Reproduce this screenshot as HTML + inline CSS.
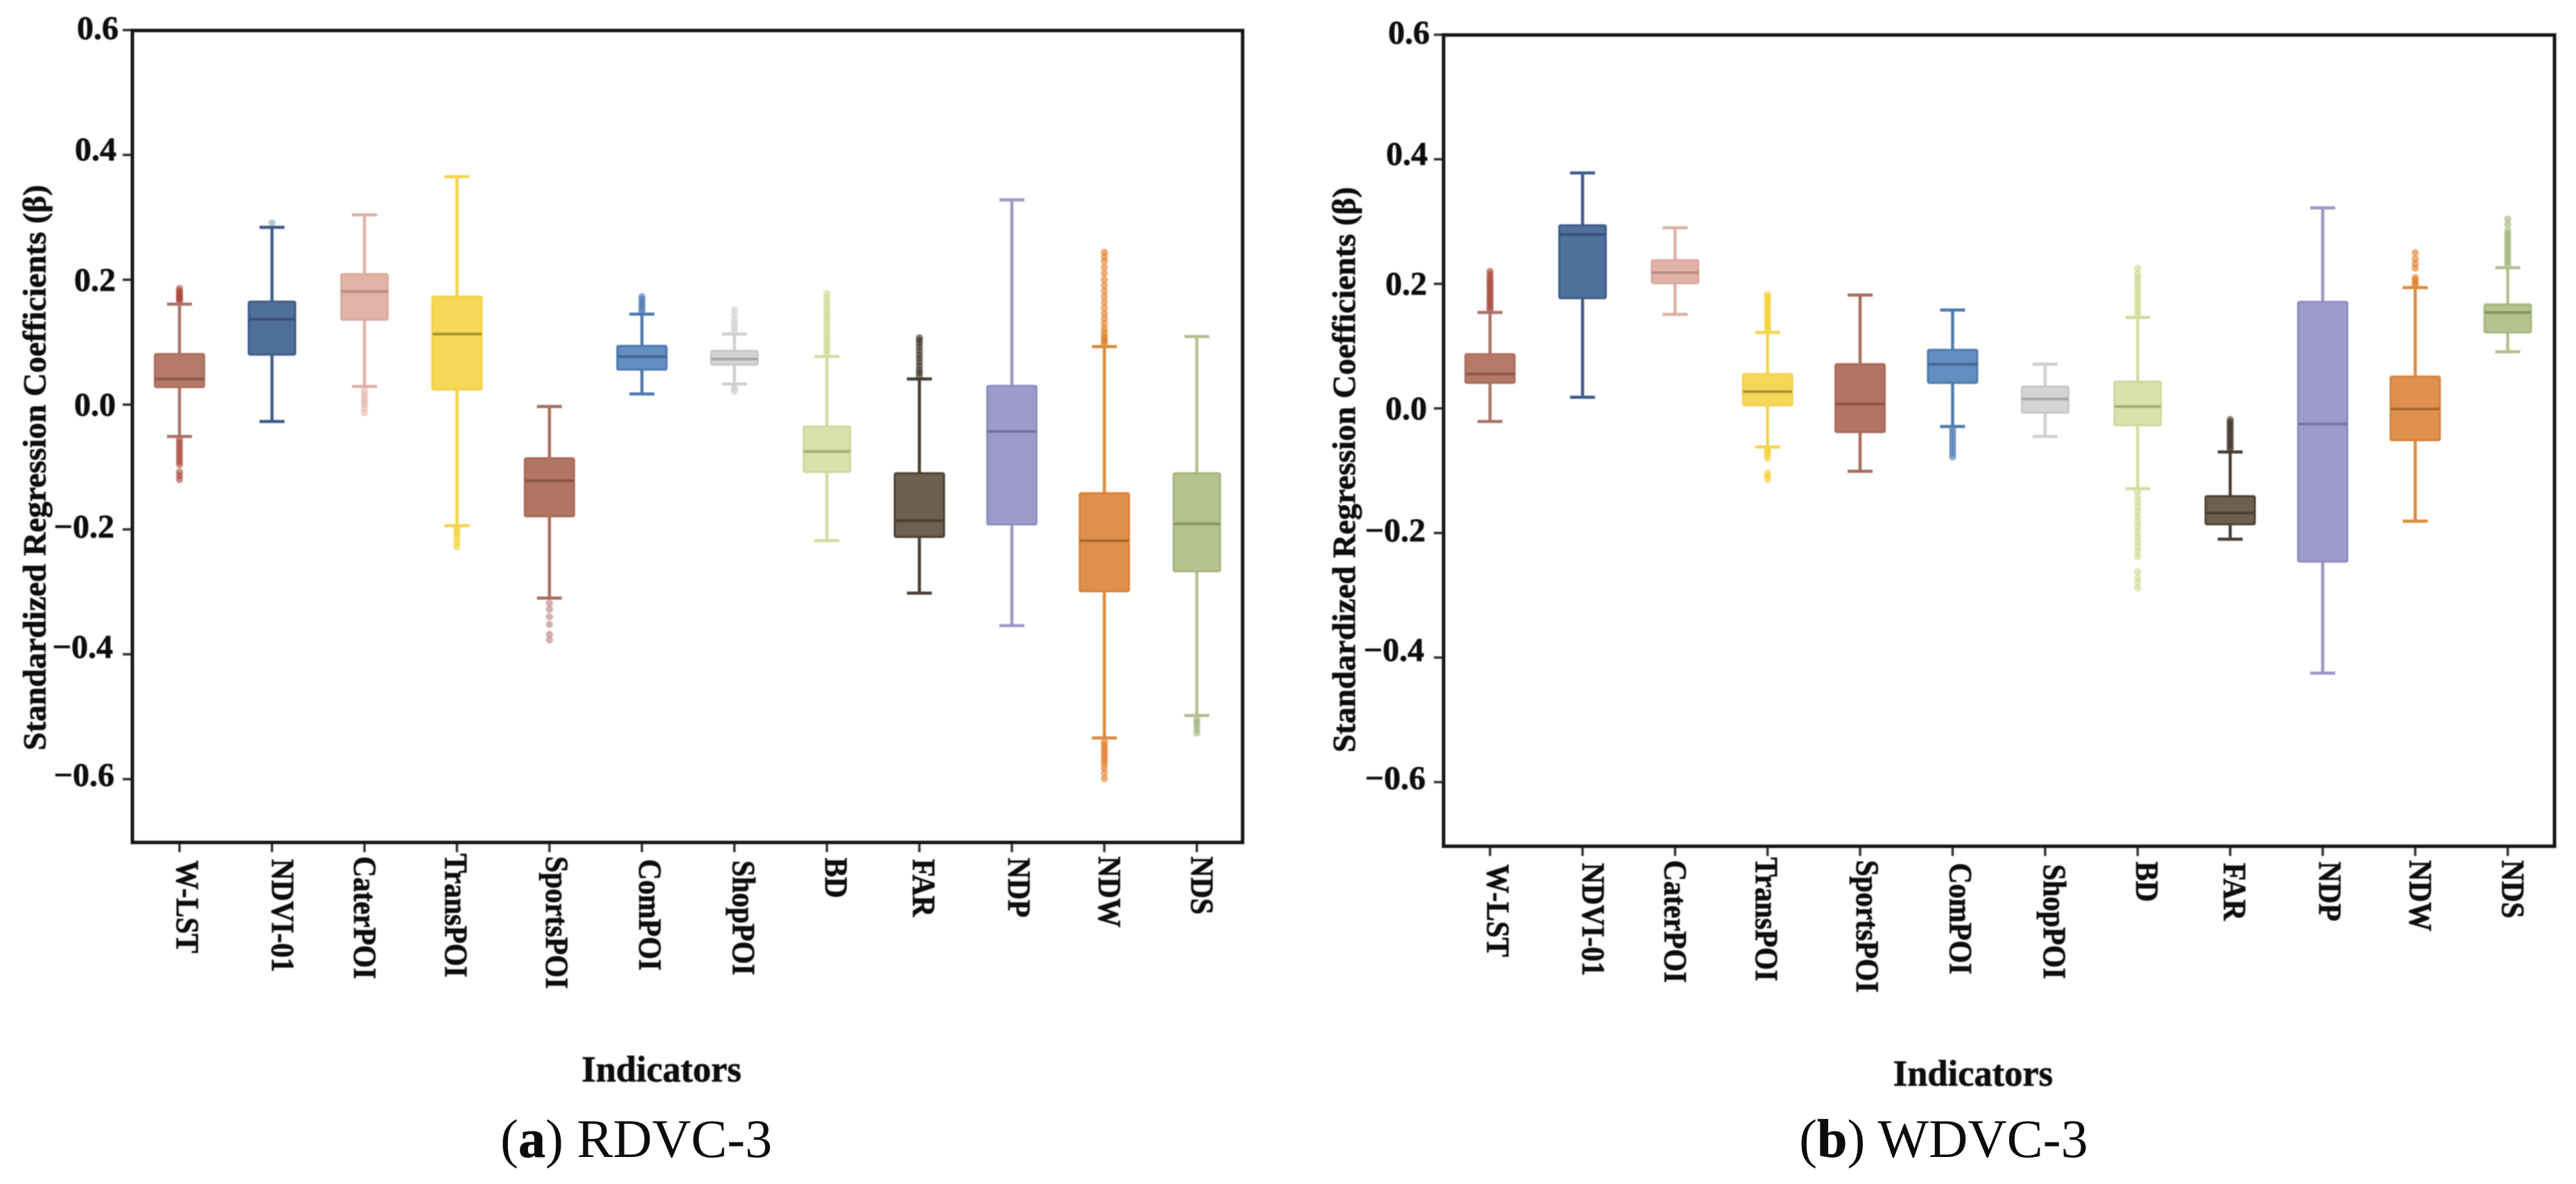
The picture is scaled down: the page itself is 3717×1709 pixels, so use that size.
<!DOCTYPE html>
<html lang="en">
<head>
<meta charset="utf-8">
<title>Standardized regression coefficients: RDVC-3 and WDVC-3</title>
<style>
html,body{margin:0;padding:0;background:#fff;width:3717px;height:1709px;overflow:hidden}
svg{display:block}
text{font-family:"Liberation Serif",serif;fill:#0b0b0b}
.b{font-weight:bold;stroke:#0b0b0b;stroke-width:0.7px}
</style>
</head>
<body>
<svg id="figure" xmlns="http://www.w3.org/2000/svg" width="3717" height="1709" viewBox="0 0 3717 1709">
  <defs><filter id="soft" x="-5%" y="-5%" width="110%" height="110%"><feGaussianBlur stdDeviation="0.9"/></filter></defs>
  <g id="panel-a" filter="url(#soft)">
    <text class="b" font-size="47" text-anchor="middle" transform="translate(65.5,675) rotate(-90)">Standardized Regression Coefficients (β)</text>
    <text class="b" font-size="52.5" text-anchor="middle" x="954.5" y="1561">Indicators</text>
  </g>
  <g id="panel-b" filter="url(#soft)">
    <text class="b" font-size="47" text-anchor="middle" transform="translate(1955,678) rotate(-90)">Standardized Regression Coefficients (β)</text>
    <text class="b" font-size="52.5" text-anchor="middle" x="2847" y="1567">Indicators</text>
  </g>
  <text x="722" y="1670" font-size="78">(<tspan class="b">a</tspan>) RDVC-3</text>
  <text x="2596" y="1670" font-size="78">(<tspan class="b">b</tspan>) WDVC-3</text>
</svg>
<script>
const categories = ['W-LST','NDVI-01','CaterPOI','TransPOI','SportsPOI','ComPOI','ShopPOI','BD','FAR','NDP','NDW','NDS'];
const yTickValues = [0.6,0.4,0.2,0.0,-0.2,-0.4,-0.6];
const yTickLabels = ['0.6','0.4','0.2','0.0','\u22120.2','\u22120.4','\u22120.6'];

const rdvcHigh   = [0.161,0.284,0.304,0.365,-0.003,0.145,0.113,0.077,0.041,0.328,0.093,0.109];
const rdvcQ3     = [0.081,0.165,0.209,0.173,-0.086,0.094,0.086,-0.035,-0.110,0.030,-0.142,-0.110];
const rdvcMedian = [0.041,0.137,0.181,0.113,-0.122,0.077,0.073,-0.075,-0.186,-0.043,-0.218,-0.191];
const rdvcQ1     = [0.028,0.080,0.136,0.024,-0.179,0.056,0.064,-0.108,-0.212,-0.192,-0.299,-0.267];
const rdvcLow    = [-0.051,-0.027,0.029,-0.194,-0.310,0.017,0.033,-0.218,-0.302,-0.354,-0.534,-0.498];
const rdvcOutliers = [
  [0.165,0.168,0.171,0.173,0.176,0.179,0.182,0.186,-0.056,-0.061,-0.066,-0.071,-0.076,-0.081,-0.086,-0.091,-0.096,-0.108,-0.114,-0.120],
  [0.291],
  [0.022,0.016,0.010,0.005,0.000,-0.006,-0.013],
  [-0.198,-0.203,-0.208,-0.214,-0.221,-0.228],
  [-0.318,-0.328,-0.340,-0.352,-0.368,-0.377],
  [0.149,0.153,0.157,0.161,0.165,0.169,0.173],
  [0.118,0.124,0.130,0.136,0.144,0.152,0.029,0.025,0.021],
  [0.081,0.087,0.093,0.099,0.105,0.111,0.117,0.123,0.129,0.135,0.141,0.147,0.153,0.159,0.165,0.171,0.178],
  [0.046,0.051,0.056,0.062,0.068,0.074,0.080,0.086,0.092,0.098,0.103,0.107],
  [],
  [0.098,0.102,0.106,0.110,0.116,0.122,0.130,0.138,0.146,0.155,0.164,0.173,0.182,0.191,0.200,0.210,0.220,0.230,0.237,0.244,-0.540,-0.545,-0.550,-0.555,-0.560,-0.565,-0.570,-0.575,-0.582,-0.590,-0.599],
  [-0.504,-0.509,-0.514,-0.520,-0.526]
];

const wdvcHigh   = [0.154,0.378,0.290,0.122,0.182,0.158,0.071,0.146,-0.070,0.322,0.194,0.226];
const wdvcQ3     = [0.087,0.294,0.238,0.055,0.071,0.094,0.035,0.043,-0.141,0.171,0.051,0.167];
const wdvcMedian = [0.055,0.279,0.218,0.027,0.007,0.071,0.015,0.003,-0.168,-0.025,-0.001,0.154];
const wdvcQ1     = [0.041,0.177,0.201,0.005,-0.038,0.041,-0.007,-0.027,-0.186,-0.246,-0.051,0.122];
const wdvcLow    = [-0.021,0.018,0.151,-0.062,-0.101,-0.029,-0.045,-0.129,-0.210,-0.425,-0.181,0.091];
const wdvcOutliers = [
  [0.158,0.162,0.166,0.170,0.174,0.178,0.182,0.186,0.190,0.194,0.198,0.202,0.206,0.210,0.215,0.220],
  [],
  [],
  [0.126,0.130,0.134,0.138,0.143,0.148,0.153,0.158,0.163,0.168,0.173,0.178,0.183,-0.066,-0.070,-0.074,-0.080,-0.104,-0.109,-0.114],
  [],
  [-0.034,-0.038,-0.043,-0.048,-0.053,-0.058,-0.063,-0.068,-0.073,-0.078],
  [],
  [0.150,0.156,0.162,0.168,0.174,0.180,0.186,0.192,0.198,0.204,0.210,0.216,0.225,-0.134,-0.142,-0.150,-0.158,-0.166,-0.174,-0.182,-0.190,-0.198,-0.206,-0.214,-0.222,-0.230,-0.238,-0.262,-0.272,-0.280,-0.288],
  [-0.066,-0.062,-0.058,-0.054,-0.050,-0.046,-0.042,-0.038,-0.034,-0.030,-0.026,-0.022,-0.018],
  [],
  [0.198,0.202,0.206,0.210,0.225,0.232,0.240,0.250],
  [0.230,0.235,0.240,0.245,0.250,0.255,0.260,0.265,0.270,0.275,0.280,0.285,0.295,0.304]
];

const fillColors  = ['#B57967','#50709B','#E1B3A7','#F6D858','#B27463','#648EC1','#D5D5D5','#D9E0AB','#6E5E4F','#9D9BC9','#DE9150','#B5C290'];
const edgeColors  = ['#A9705F','#3E5C88','#D9AA9E','#F4D24A','#A9695A','#4E7AAF','#C6C6C6','#CFD89C','#4C3F33','#8F8DBE','#D9803A','#A8B681'];
const lineColors  = ['#A8736A','#3F5C88','#DDB0A5','#F3D34E','#A96C5E','#4E79AD','#CFCFCF','#D3DBA0','#4A3D31','#9A98C6','#DC8A3E','#B3BF8E'];
const medianColors= ['#8C5648','#3A5078','#B98D80','#A98F35','#8A5546','#46658F','#A6A6A6','#A3AD72','#4B3E32','#73719E','#A9662F','#87955F'];
const dotColors   = ['#A8453A','#7FA6B5','#E3B8AD','#F4CE2C','#B8807A','#4F7DB3','#CFCFCF','#CBD68C','#3F3024','#9A98C6','#E07A22','#9DB178'];
const boxWidths   = [71,67,67,71,71,71,67,67,71,71,71,67];

const labelDx = [-4,0,-15,-17,-5,-4,-2,-2,-9,-5,-8,-8];
const labelDy = [26,24,20,16,20,24,26,22,24,22,20,20];
const yLabelDx = [-20,-23,-24,-24,-26,-28,-26];
const yLabelDy = [13,8,16,16,12,5,10];

const NS = 'http://www.w3.org/2000/svg';
function make(tag, parent, attrs) {
  const el = document.createElementNS(NS, tag);
  for (const k in attrs) el.setAttribute(k, attrs[k]);
  parent.appendChild(el);
  return el;
}
function slug(s) { return s.toLowerCase(); }

function drawPanel(root, tag, frame, x0, step, y0, yScale, high, q3, median, q1, low, outliers) {
  const xAxis = i => x0 + i * step;
  const yAxis = v => y0 - v * yScale;

  yTickValues.forEach((v, i) => {
    const tick = make('line', root, {x1: frame.left - 14, x2: frame.left, y1: yAxis(v), y2: yAxis(v), stroke: '#333', 'stroke-width': 3.5});
    
    
    const label = make('text', root, {x: frame.left + yLabelDx[i], y: yAxis(v) + yLabelDy[i], 'text-anchor': 'end', 'font-size': 48, class: 'b'});
    label.textContent = yTickLabels[i];
    
    
  });

  categories.forEach((name, i) => {
    const cx = xAxis(i);
    const tick = make('line', root, {x1: cx, x2: cx, y1: frame.bottom, y2: frame.bottom + 14, stroke: '#333', 'stroke-width': 3.5});
    
    
    const label = make('text', root, {class: 'b', 'font-size': 42,
      transform: 'translate(' + (cx + labelDx[i]) + ',' + (frame.bottom + labelDy[i]) + ') rotate(90) scale(1,1.12)'});
    label.textContent = name;
    
    

    const group = make('g', root, {});
    
    

    outliers[i].forEach((v, k) => {
      const dot = make('circle', group, {cx: cx, cy: yAxis(v), r: 5.2, fill: dotColors[i], 'fill-opacity': 0.62});
      
      
    });

    const whisker = make('line', group, {x1: cx, x2: cx, y1: yAxis(high[i]), y2: yAxis(low[i]), stroke: lineColors[i], 'stroke-width': 4.5});
    
    
    [high[i], low[i]].forEach((v, k) => {
      const cap = make('line', group, {x1: cx - 18, x2: cx + 18, y1: yAxis(v), y2: yAxis(v), stroke: lineColors[i], 'stroke-width': 4.5});
      
      
    });

    const w = boxWidths[i];
    const box = make('rect', group, {x: cx - w / 2, y: yAxis(q3[i]), width: w, height: yAxis(q1[i]) - yAxis(q3[i]), rx: 2, fill: fillColors[i], stroke: edgeColors[i], 'stroke-width': 3});
    
    
    const med = make('line', group, {x1: cx - w / 2, x2: cx + w / 2, y1: yAxis(median[i]), y2: yAxis(median[i]), stroke: medianColors[i], 'stroke-width': 4});
    
    
  });

  const border = make('rect', root, {x: frame.left, y: frame.top, width: frame.right - frame.left, height: frame.bottom - frame.top, fill: 'none', stroke: '#161616', 'stroke-width': 5});
  
  
}

drawPanel(document.getElementById('panel-a'), 'rdvc', {left: 191, right: 1793, top: 44, bottom: 1216},
  259, 133.45, 584, 901, rdvcHigh, rdvcQ3, rdvcMedian, rdvcQ1, rdvcLow, rdvcOutliers);
drawPanel(document.getElementById('panel-b'), 'wdvc', {left: 2083, right: 3686, top: 50.5, bottom: 1221.5},
  2150, 133.5, 589.5, 899, wdvcHigh, wdvcQ3, wdvcMedian, wdvcQ1, wdvcLow, wdvcOutliers);
</script>
</body>
</html>
